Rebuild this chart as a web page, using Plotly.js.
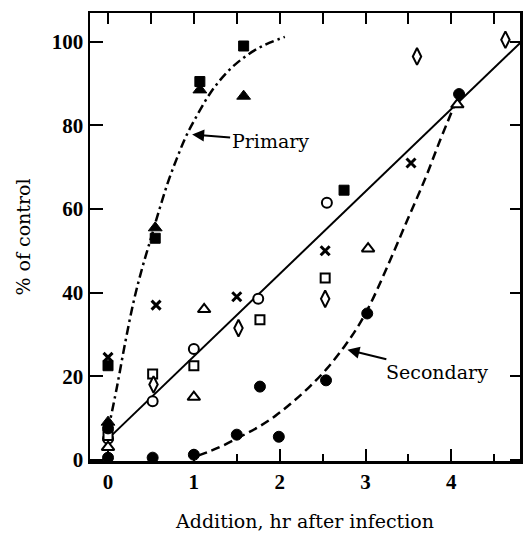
<!DOCTYPE html>
<html>
<head>
<meta charset="utf-8">
<script src="https://cdn.plot.ly/plotly-3.0.1.min.js"></script>
<style>html,body{margin:0;padding:0;background:#fff;}#chart{width:524px;height:534px;}</style>
</head>
<body>
<div id="chart"></div>
<script>
// ---- data ----
const xTickVals = [0, 1, 2, 3, 4];
const xTickText = ['0', '1', '2', '3', '4'];
const xMinorVals = [0.5, 1.5, 2.5, 3.5, 4.5];
const xTopTickVals = [0, 0.5, 1, 1.5, 2, 2.5, 3, 3.5, 4, 4.5];
const yTickVals = [0, 20, 40, 60, 80, 100];
const yTickText = ['0', '20', '40', '60', '80', '100'];

// fitted curves
const solidX = [0, 4.84];
const solidY = [5.0, 100.5];
const primaryX = [0, 0.1, 0.2, 0.3, 0.4, 0.5, 0.6, 0.7, 0.8, 0.9, 1.0, 1.2, 1.4, 1.6, 1.8, 2.06];
const primaryY = [7, 17, 28, 38, 46, 53, 60, 66.5, 72, 77, 81, 88, 93, 96.5, 99, 101.2];
const secondaryX = [1.05, 1.3, 1.54, 1.75, 1.95, 2.15, 2.35, 2.55, 2.75, 2.9, 3.05, 3.25, 3.48, 3.7, 3.87, 4.04];
const secondaryY = [1, 3, 5.5, 7.8, 10.5, 13.8, 17.5, 21.8, 27, 31.5, 37, 46, 57, 67.5, 76.5, 85];

// measured points
const openCircleX = [0, 0.52, 1.0, 1.75, 2.55];
const openCircleY = [5, 14, 26.5, 38.5, 61.5];
const openSquareX = [0, 0.52, 1.0, 1.77, 2.53];
const openSquareY = [5.8, 20.5, 22.5, 33.5, 43.5];
const openTriangleX = [0, 1.0, 1.12, 3.03, 4.07];
const openTriangleY = [3, 15, 36, 50.5, 85];
const openDiamondX = [0.53, 1.52, 2.53, 3.6, 4.63];
const openDiamondY = [18, 31.5, 38.5, 96.5, 100.5];
const crossX = [0, 0.56, 1.5, 2.53, 3.53];
const crossY = [24.5, 37, 39, 50, 71];
const filledSquareX = [0, 0.55, 1.07, 1.58, 2.75];
const filledSquareY = [22.5, 53, 90.5, 99, 64.5];
const filledTriangleX = [0, 0.55, 1.07, 1.58];
const filledTriangleY = [9, 55.5, 88.5, 87];
const filledCircleX = [0, 0, 0.52, 1.0, 1.5, 1.77, 1.99, 2.54, 3.02, 4.09];
const filledCircleY = [7.5, 0.5, 0.5, 1.2, 6, 17.5, 5.5, 19, 35, 87.5];

const serif = 'DejaVu Serif, serif';
const tickFont = {family: 'Liberation Serif, serif', size: 21, color: '#000', weight: 'bold'};

function lineTrace(x, y, dash, w) {
  return {x: x, y: y, type: 'scatter', mode: 'lines', hoverinfo: 'skip',
          line: {color: '#000', width: w, dash: dash, shape: 'spline', smoothing: 1}, cliponaxis: false};
}
function markerTrace(x, y, symbol, size, fill, lw) {
  return {x: x, y: y, type: 'scatter', mode: 'markers', cliponaxis: false,
          marker: {symbol: symbol, size: size, color: fill, line: {color: '#000', width: lw}}};
}

const traces = [
  lineTrace(solidX, solidY, 'solid', 2),
  lineTrace(primaryX, primaryY, '9px,4px,2.5px,4px', 2.5),
  lineTrace(secondaryX, secondaryY, '9px,5px', 2.5),
  markerTrace(openCircleX, openCircleY, 'circle', 10, '#fff', 2),
  markerTrace(openSquareX, openSquareY, 'square', 9, '#fff', 2),
  markerTrace(openTriangleX, openTriangleY, 'triangle-up', 11, '#fff', 2),
  markerTrace(openDiamondX, openDiamondY, 'diamond-tall', 12, '#fff', 2),
  markerTrace(filledTriangleX, filledTriangleY, 'triangle-up', 12, '#000', 1),
  markerTrace(filledSquareX, filledSquareY, 'square', 10, '#000', 1),
  markerTrace(crossX, crossY, 'x-thin', 9, '#000', 3),
  markerTrace(filledCircleX, filledCircleY, 'circle', 11, '#000', 1),
  {x: [], y: [], xaxis: 'x2', yaxis: 'y2', type: 'scatter', mode: 'markers', hoverinfo: 'skip'}
];

const xr = [-0.21, 4.80];
const yr = [-0.3, 106.9];

const layout = {
  width: 524, height: 534,
  margin: {l: 90, r: 4, t: 13, b: 73},
  paper_bgcolor: '#fff', plot_bgcolor: '#fff',
  showlegend: false,
  xaxis: {
    range: xr, tickmode: 'array', tickvals: xTickVals, ticktext: xTickText,
    ticks: 'inside', ticklen: 12, tickwidth: 2, tickcolor: '#000',
    minor: {tickmode: 'array', tickvals: xMinorVals, ticks: 'inside', ticklen: 7, tickwidth: 2, tickcolor: '#000', showgrid: false},
    showline: true, linewidth: 2.5, linecolor: '#000', mirror: true,
    showgrid: false, zeroline: false, tickfont: tickFont,
    title: {text: 'Addition, hr after infection', font: {family: serif, size: 19, color: '#000'}, standoff: 22}
  },
  yaxis: {
    range: yr, tickmode: 'array', tickvals: yTickVals, ticktext: yTickText,
    ticks: 'inside', ticklen: 13, tickwidth: 2, tickcolor: '#000',
    showline: true, linewidth: 2.5, linecolor: '#000', mirror: true,
    showgrid: false, zeroline: false, tickfont: tickFont,
    title: {text: '% of control', font: {family: serif, size: 19, color: '#000'}, standoff: 16}
  },
  xaxis2: {
    overlaying: 'x', side: 'top', anchor: 'y', range: xr,
    tickmode: 'array', tickvals: xTopTickVals, ticks: 'inside', ticklen: 11, tickwidth: 2, tickcolor: '#000',
    showticklabels: false, showline: false, showgrid: false, zeroline: false
  },
  yaxis2: {
    overlaying: 'y', side: 'right', anchor: 'x', range: yr,
    tickmode: 'array', tickvals: yTickVals, ticks: 'inside', ticklen: 10, tickwidth: 2, tickcolor: '#000',
    showticklabels: false, showline: false, showgrid: false, zeroline: false
  },
  annotations: [
    {x: 0.98, y: 77.8, xref: 'x', yref: 'y', text: 'Primary', showarrow: true,
     ax: 78, ay: 6, arrowhead: 2, arrowsize: 1.2, arrowwidth: 2, arrowcolor: '#000',
     font: {family: serif, size: 19, color: '#000'}},
    {x: 2.79, y: 26.3, xref: 'x', yref: 'y', text: 'Secondary', showarrow: true,
     ax: 90, ay: 22, arrowhead: 2, arrowsize: 1.2, arrowwidth: 2, arrowcolor: '#000',
     font: {family: serif, size: 19, color: '#000'}}
  ]
};

Plotly.newPlot('chart', traces, layout, {staticPlot: true, displayModeBar: false});
</script>
</body>
</html>
